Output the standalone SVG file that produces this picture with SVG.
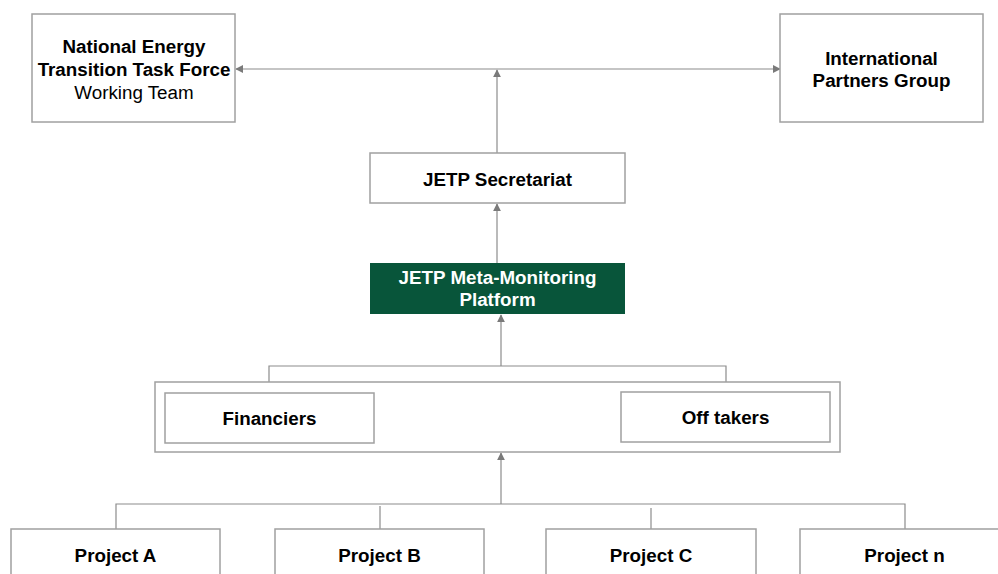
<svg xmlns="http://www.w3.org/2000/svg" width="998" height="574" viewBox="0 0 998 574">
<style>
.box{fill:#fff;stroke:#a0a0a0;stroke-width:1.5}
.t{font-family:"Liberation Sans",Arial,sans-serif;font-size:18.8px;font-weight:bold;fill:#000;text-anchor:middle;dominant-baseline:central}
.r{font-weight:normal}
.w{fill:#fff}
.c{fill:none;stroke:#8c8c8c;stroke-width:1.2}
</style>
<defs>
<marker id="ah" viewBox="0 0 10 10" refX="9" refY="5" markerWidth="8" markerHeight="8" markerUnits="userSpaceOnUse" orient="auto-start-reverse">
<path d="M0,0 L10,5 L0,10 z" fill="#7a7a7a"/>
</marker>
</defs>
<rect width="998" height="574" fill="#fff"/>
<g id="connectors">
<line class="c" x1="236" y1="69" x2="780" y2="69" marker-start="url(#ah)" marker-end="url(#ah)"/>
<line class="c" x1="497" y1="153" x2="497" y2="70" marker-end="url(#ah)"/>
<line class="c" x1="497" y1="263" x2="497" y2="204" marker-end="url(#ah)"/>
<polyline class="c" points="269,393 269,366 726,366 726,392"/>
<line class="c" x1="501" y1="366" x2="501" y2="315" marker-end="url(#ah)"/>
<polyline class="c" points="116,529 116,504 905,504 905,529"/>
<line class="c" x1="380" y1="506" x2="380" y2="529"/>
<line class="c" x1="651" y1="508" x2="651" y2="529"/>
<line class="c" x1="501" y1="504" x2="501" y2="453" marker-end="url(#ah)"/>
</g>
<g id="nettf">
<rect class="box" x="32" y="14" width="203" height="108"/>
<text class="t" x="134" y="46">National Energy</text>
<text class="t" x="134" y="69">Transition Task Force</text>
<text class="t r" x="134" y="92">Working Team</text>
</g>
<g id="ipg">
<rect class="box" x="780" y="14" width="203" height="108"/>
<text class="t" x="881.5" y="58">International</text>
<text class="t" x="881.5" y="80">Partners Group</text>
</g>
<g id="secretariat">
<rect class="box" x="370" y="153" width="255" height="50"/>
<text class="t" x="497.5" y="179">JETP Secretariat</text>
</g>
<g id="platform">
<rect x="370" y="263" width="255" height="51" fill="#08553a"/>
<text class="t w" x="497.5" y="277">JETP Meta-Monitoring</text>
<text class="t w" x="497.5" y="299">Platform</text>
</g>
<g id="group">
<rect class="box" x="155" y="382" width="685" height="70"/>
</g>
<g id="financiers">
<rect class="box" x="165" y="393" width="209" height="50"/>
<text class="t" x="269.5" y="418">Financiers</text>
</g>
<g id="offtakers">
<rect class="box" x="621" y="392" width="209" height="50"/>
<text class="t" x="725.5" y="417">Off takers</text>
</g>
<g id="projectA">
<rect class="box" x="11" y="529" width="209" height="60"/>
<text class="t" x="115.5" y="555">Project A</text>
</g>
<g id="projectB">
<rect class="box" x="275" y="529" width="209" height="60"/>
<text class="t" x="379.5" y="555">Project B</text>
</g>
<g id="projectC">
<rect class="box" x="546" y="529" width="210" height="60"/>
<text class="t" x="651" y="555">Project C</text>
</g>
<g id="projectN">
<rect class="box" x="800" y="529" width="209" height="60"/>
<text class="t" x="904.5" y="555">Project n</text>
</g>
</svg>
